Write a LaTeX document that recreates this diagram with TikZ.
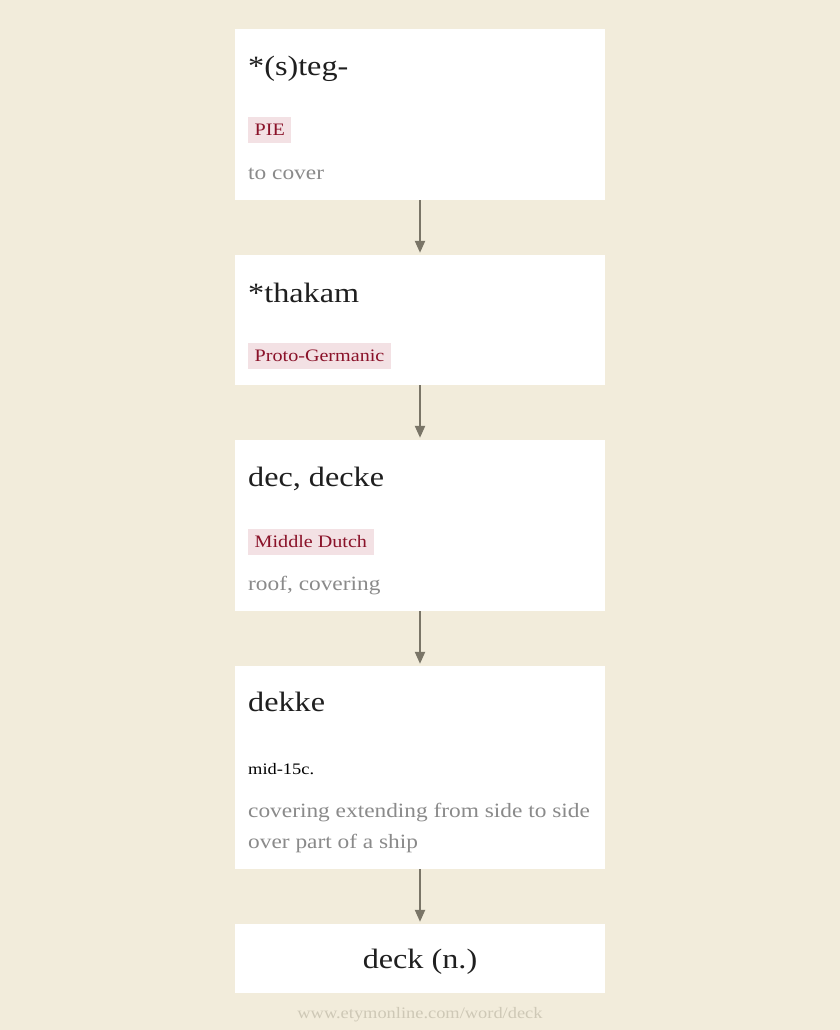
\documentclass[tikz,border=0pt]{standalone}
\usepackage{fontspec}
\setmainfont[FakeStretch=1.15]{Liberation Serif}
\usetikzlibrary{arrows.meta}
\definecolor{bgcream}{HTML}{F2ECDB}
\definecolor{tagpink}{HTML}{F3E1E4}
\definecolor{tagred}{HTML}{8A1229}
\definecolor{glossgray}{HTML}{8A8A8A}
\definecolor{arrowgray}{HTML}{7A7567}
\definecolor{footgray}{HTML}{CEC8B6}
\begin{document}
\begin{tikzpicture}[
x=1pt,y=-1pt,
box/.style={
  rectangle,
  fill=white,
  inner sep=0pt,
  minimum width=370pt
},
word/.style={anchor=base west,inner sep=0pt,text=black!88,font=\fontsize{28}{32}\selectfont},
tag/.style={anchor=west,fill=tagpink,text=tagred,inner xsep=6.5pt,inner ysep=0pt,
  minimum height=26pt,font=\fontsize{17.5}{20}\selectfont},
gloss/.style={anchor=base west,inner sep=0pt,text=glossgray,align=left,
  font=\fontsize{20.3}{31.5}\selectfont},
arrow/.style={arrowgray,line width=2.2pt,-{Triangle[length=12pt,width=10pt]},shorten >=2pt}
]
\fill[bgcream] (0,0) rectangle (840,1030);

% the five boxes
\node (b1) at (420,114.5) [box,minimum height=171pt] {};
\node (b2) at (420,320) [box,minimum height=130pt] {};
\node (b3) at (420,525.5) [box,minimum height=171pt] {};
\node (b4) at (420,767.5) [box,minimum height=203pt] {};
\node (b5) at (420,958.5) [box,minimum height=69pt] {};

\node (w1) at (248,76) [word] {*(s)teg-};
\node (t1) at (248,130) [tag] {PIE};
\node (g1) at (248,179) [gloss] {to cover};

\node (w2) at (248,302) [word] {*thakam};
\node (t2) at (248,356) [tag] {Proto-Germanic};

\node (w3) at (248,486) [word] {dec, decke};
\node (t3) at (248,542) [tag] {Middle Dutch};
\node (g3) at (248,590) [gloss] {roof, covering};

\node (w4) at (248,711) [word] {dekke};
\node (d4) at (248,774) [anchor=base west,inner sep=0pt,font=\fontsize{16}{19}\selectfont] {mid-15c.};
\node (g4) at (248,848.5) [gloss] {covering extending from side to side\\over part of a ship};

\node (w5) at (420,968) [anchor=base,inner sep=0pt,text=black!88,font=\fontsize{28}{32}\selectfont] {deck (n.)};

\node (foot) at (420,1018) [anchor=base,inner sep=0pt,text=footgray,font=\fontsize{16}{18}\selectfont] {www.etymonline.com/word/deck};

\draw [arrow] (b1) -- (b2);
\draw [arrow] (b2) -- (b3);
\draw [arrow] (b3) -- (b4);
\draw [arrow] (b4) -- (b5);

\end{tikzpicture}
\end{document}
